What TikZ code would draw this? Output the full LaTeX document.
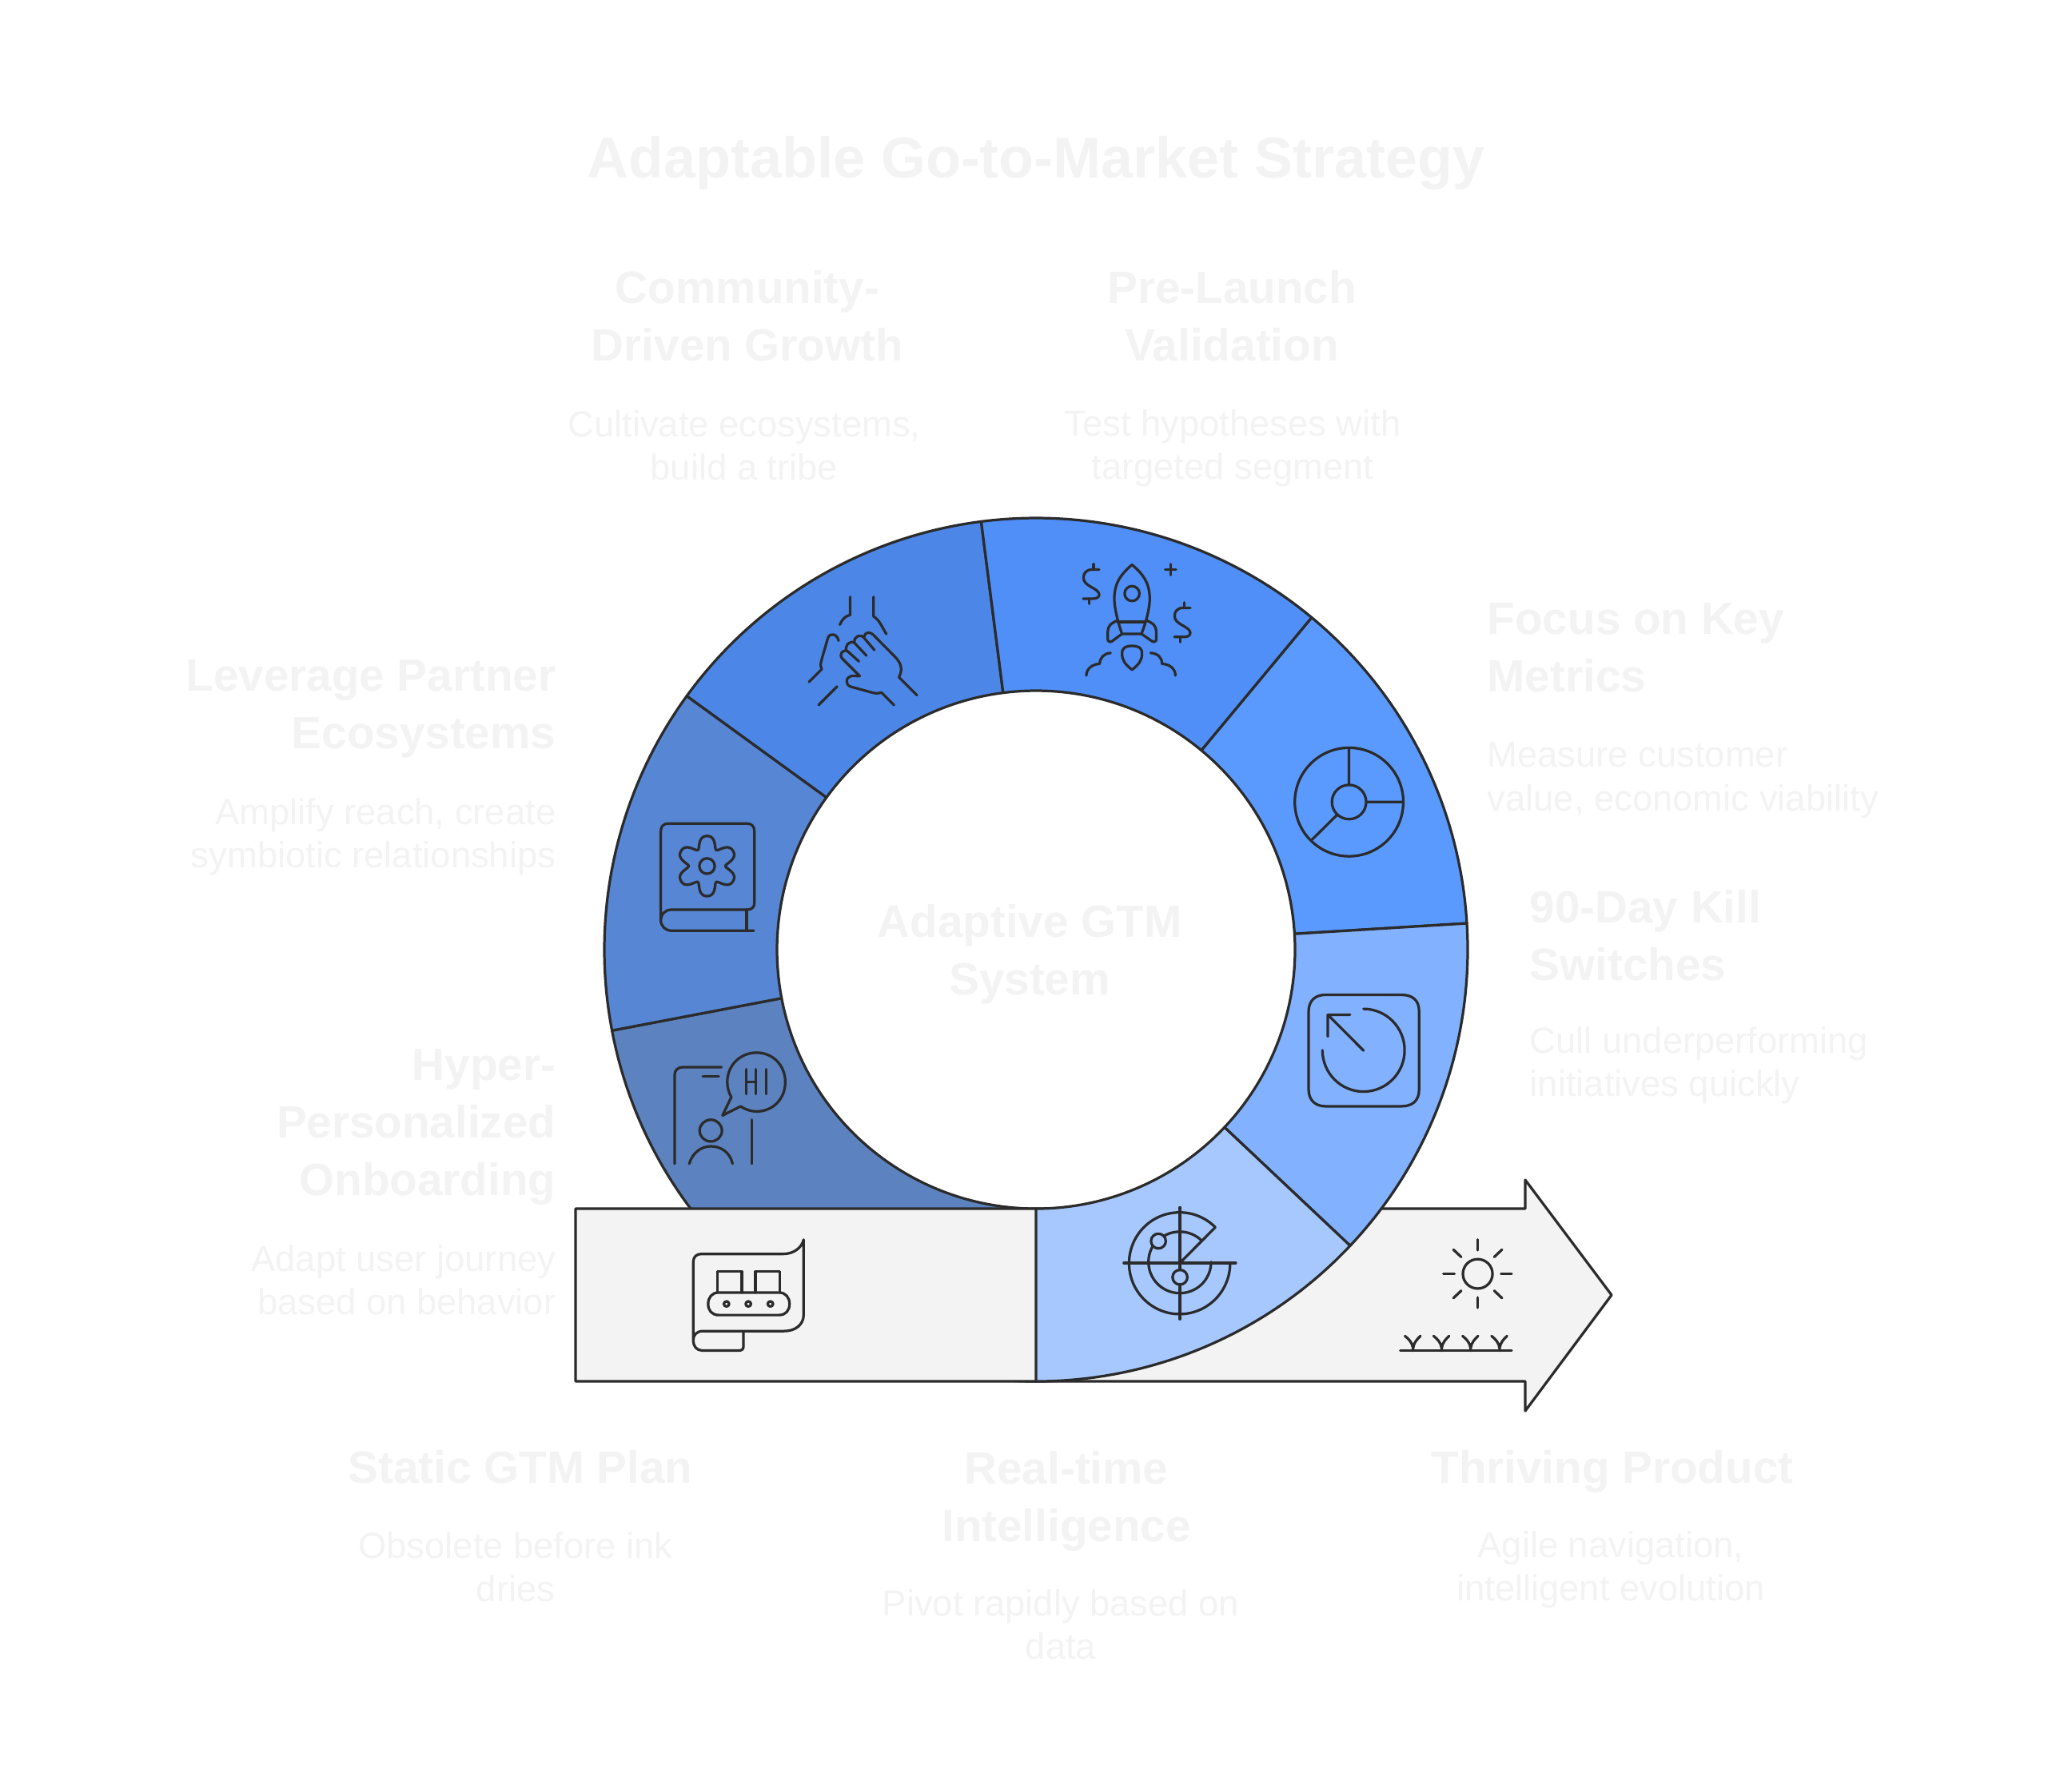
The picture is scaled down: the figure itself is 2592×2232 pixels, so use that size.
\documentclass[tikz,border=0pt]{standalone}
\usepackage{fontspec}
\setmainfont{Liberation Sans}
\definecolor{inkc}{HTML}{2B2B2B}
\definecolor{palet}{HTML}{F3F3F3}
\definecolor{grayf}{HTML}{F3F3F3}
\definecolor{sega}{HTML}{5C83C0}
\definecolor{segb}{HTML}{5786D4}
\definecolor{segc}{HTML}{4C87E8}
\definecolor{segd}{HTML}{4F8FF7}
\definecolor{sege}{HTML}{5A9AFF}
\definecolor{segf}{HTML}{82B1FF}
\definecolor{segg}{HTML}{A6C8FF}
\tikzset{
  seg/.style={draw=inkc,line width=0.92pt,line join=round},
  ico/.style={draw=inkc,line width=0.92pt,line cap=round,line join=round},
  ttl/.style={text=palet,align=center,font=\fontsize{20.45}{26}\bfseries\selectfont},
  hd/.style={text=palet,font=\fontsize{16.1}{20.5}\bfseries\selectfont,inner sep=0pt},
  ds/.style={text=palet,font=\fontsize{12.9}{15.4}\selectfont,inner sep=0pt},
  zoomA/.style={shift={(1250,660)},x=0.0035714cm,y=-0.0035714cm},
  zoomB/.style={shift={(780,700)},x=0.0033333cm,y=-0.0033333cm},
  zoomC/.style={shift={(780,1200)},x=0.0033333cm,y=-0.0035714cm},
  zoomD/.style={shift={(1380,1200)},x=0.0042088cm,y=-0.0038270cm},
}
\newcommand{\ringseg}[3]{\draw[seg,fill=#3] (#1:540) arc[start angle=#1,end angle=#2,radius=540] -- (#2:324) arc[start angle=#2,end angle=#1,radius=324] -- cycle;}
\newcommand{\dollarmark}{%
  \draw[ico] (350,147) -- (325,147) .. controls (305,147) and (295,160) .. (295,175) .. controls (295,190) and (305,198) .. (322,208) .. controls (340,218) and (350,225) .. (350,235) .. controls (350,245) and (340,249) .. (325,249) -- (294,249);
  \draw[ico] (330,128) -- (330,147) (314,249) -- (314,267);}
\newcommand{\sprout}[1]{\draw[ico] (#1,1278) -- (#1,1262) (#1-24,1230) .. controls (#1-12,1240) and (#1-2,1252) .. (#1,1270) .. controls (#1+2,1252) and (#1+12,1240) .. (#1+22,1230);}
\begin{document}
\begin{tikzpicture}[x=0.01cm,y=-0.01cm]
\useasboundingbox (0,0) rectangle (2592,2232);
\fill[white] (0,0) rectangle (2592,2232);

% onboarding sector lies under the arrow
\begin{scope}[shift={(1296,1188)},yscale=-1]
  \ringseg{190.8}{270}{sega}
\end{scope}
% arrow
\draw[seg,fill=grayf] (720,1512) -- (1908,1512) -- (1908,1476) -- (2016,1620) -- (1908,1765) -- (1908,1728) -- (720,1728) -- cycle;
% other sectors
\begin{scope}[shift={(1296,1188)},yscale=-1]
  \ringseg{144}{190.8}{segb}
  \ringseg{97.3}{144}{segc}
  \ringseg{50.3}{97.3}{segd}
  \ringseg{3.5}{50.3}{sege}
  \ringseg{-43.3}{3.5}{segf}
  \ringseg{-90}{-43.3}{segg}
\end{scope}

% rocket
\begin{scope}[zoomA]
  \draw[ico] (465,130) .. controls (430,160) and (403,190) .. (403,250) .. controls (403,280) and (415,330) .. (430,372) -- (498,372) .. controls (515,330) and (527,280) .. (527,250) .. controls (527,190) and (500,160) .. (465,130) -- cycle;
  \draw[ico] (415,330) -- (512,330);
  \draw[ico] (465,231) circle[radius=26];
  \draw[ico] (415,325) .. controls (390,335) and (380,345) .. (380,365) -- (380,390) .. controls (380,400) and (388,402) .. (395,398) -- (430,372);
  \draw[ico] (515,325) .. controls (540,335) and (550,345) .. (550,365) -- (550,390) .. controls (550,400) and (542,402) .. (535,398) -- (498,372);
  \draw[ico] (465,498) .. controls (440,478) and (430,465) .. (430,440) .. controls (430,420) and (445,414) .. (465,414) .. controls (485,414) and (500,420) .. (500,440) .. controls (500,465) and (490,478) .. (465,498) -- cycle;
  \draw[ico] (305,518) .. controls (305,495) and (325,478) .. (352,477) .. controls (352,455) and (368,440) .. (390,439);
  \draw[ico] (617,518) .. controls (617,495) and (597,478) .. (570,477) .. controls (570,455) and (555,440) .. (530,439);
  \draw[ico] (600,128) -- (600,166) (581,147) -- (619,147);
  \dollarmark
  \begin{scope}[shift={(319,134)}]\dollarmark\end{scope}
  % metrics dial
  \draw[ico] (1225,961) circle[radius=190];
  \draw[ico] (1225,961) circle[radius=60];
  \draw[ico] (1225,772) -- (1225,902) (1285,961) -- (1413,961) (1182,1007) -- (1093,1095);
\end{scope}

% hands and book
\begin{scope}[zoomB]
  \draw[ico] (852,140) -- (852,208) .. controls (832,212) and (820,228) .. (813,245);
  \draw[ico] (940,140) -- (940,214) .. controls (960,225) and (970,250) .. (988,280);
  \draw[ico] (808,305) .. controls (805,280) and (775,272) .. (768,295) -- (745,375) .. controls (740,392) and (740,400) .. (745,412) -- (697,460);
  \draw[ico] (803,477) -- (733,547);
  \draw[ico] (888,438) -- (822,372) .. controls (808,355) and (825,335) .. (843,345) -- (885,383);
  \draw[ico] (838,345) .. controls (830,320) and (855,300) .. (870,315) -- (913,361);
  \draw[ico] (868,310) .. controls (865,290) and (890,278) .. (903,293) -- (943,340);
  \draw[ico] (905,290) .. controls (905,275) and (925,268) .. (938,282) -- (1020,365) .. controls (1045,390) and (1050,415) .. (1035,442) -- (1103,510);
  \draw[ico] (888,438) -- (860,437) .. controls (835,440) and (830,470) .. (855,478) -- (935,500) .. controls (950,504) and (960,503) .. (970,500) -- (1017,547);
  \draw[ico] (140,1355) -- (140,1022) .. controls (140,1002) and (150,992) .. (170,992) -- (462,992) .. controls (482,992) and (492,1002) .. (492,1022) -- (492,1290) .. controls (492,1306) and (482,1316) .. (466,1316) -- (180,1316) .. controls (155,1316) and (140,1335) .. (140,1355) .. controls (140,1378) and (158,1395) .. (180,1395) -- (490,1395);
  \draw[ico] (463,1316) -- (463,1395);
  \draw[ico] plot[domain=0:357,samples=120,smooth cycle] ({314+(95+22*cos(6*\x-540)-4*cos(12*\x))*cos(\x)},{1152+(95+22*cos(6*\x-540)-4*cos(12*\x))*sin(\x)});
  \draw[ico] (314,1152) circle[radius=29];
\end{scope}

% onboarding and conveyor
\begin{scope}[zoomC]
  \draw[ico] (192,716) -- (192,405) .. controls (192,388) and (205,378) .. (222,378) -- (368,378);
  \draw[ico] (298,411) -- (358,411);
  \draw[ico] (405,483) .. controls (395,465) and (390,448) .. (390,430) .. controls (390,370) and (440,327) .. (500,327) .. controls (560,327) and (608,370) .. (608,430) .. controls (608,490) and (560,533) .. (500,533) .. controls (480,533) and (460,527) .. (440,515) -- (372,547) -- cycle;
  \draw[ico] (462,385) -- (462,472) (498,385) -- (498,472) (462,430) -- (498,430) (537,385) -- (537,472);
  \draw[ico] (328,600) circle[x radius=42,y radius=38];
  \draw[ico] (247,716) .. controls (260,675) and (295,655) .. (328,655) .. controls (365,655) and (400,675) .. (410,716);
  \draw[ico] (482,562) -- (482,716);
  \draw[ico] (262,1335) -- (262,1060) .. controls (262,1042) and (275,1032) .. (292,1032) -- (600,1032) .. controls (640,1032) and (670,1010) .. (677,982) -- (677,1245) .. controls (677,1280) and (645,1302) .. (605,1302) -- (300,1302) .. controls (275,1302) and (262,1315) .. (262,1335) .. controls (262,1355) and (275,1370) .. (295,1370) -- (435,1370) .. controls (445,1370) and (451,1365) .. (451,1355) -- (451,1302);
  \draw[ico] (354,1167) -- (354,1094) -- (445,1094) -- (445,1167);
  \draw[ico] (496,1167) -- (496,1094) -- (587,1094) -- (587,1167);
  \draw[ico] (358,1167) -- (584,1167) .. controls (610,1167) and (624,1185) .. (624,1207) .. controls (624,1230) and (610,1246) .. (584,1246) -- (358,1246) .. controls (332,1246) and (318,1230) .. (318,1207) .. controls (318,1185) and (332,1167) .. (358,1167) -- cycle;
  \foreach \dx in {387,469,552} \draw[ico] (\dx,1207) circle[x radius=10,y radius=9];
\end{scope}

% timer, radar, sun
\begin{scope}[zoomD]
  \draw[ico] (660,116) -- (885,116) .. controls (920,116) and (938,135) .. (938,170) -- (938,425) .. controls (938,460) and (920,480) .. (885,480) -- (660,480) .. controls (630,480) and (610,460) .. (610,425) -- (610,170) .. controls (610,135) and (630,116) .. (660,116) -- cycle;
  \draw[ico] (773,162) arc[start angle=-90,end angle=180,x radius=122,y radius=135];
  \draw[ico] (773,298) -- (667,181) (667,252) -- (667,181) -- (733,181);
  \draw[ico] (333,875) arc[start angle=-45,end angle=-360,x radius=150,y radius=166];
  \draw[ico] (292,918) arc[start angle=-46,end angle=-119,x radius=93,y radius=102];
  \draw[ico] (147,937) arc[start angle=-150,end angle=-360,x radius=93,y radius=102];
  \draw[ico] (164,920) circle[x radius=22,y radius=24];
  \draw[ico] (228,1038) circle[x radius=22,y radius=24];
  \draw[ico] (228,810) -- (228,1014) (228,1062) -- (228,1175);
  \draw[ico,line width=1.1pt] (62,991) -- (393,991);
  \draw[ico] (228,991) -- (333,875);
  \draw[ico] (1112,1027) circle[x radius=44,y radius=48];
  \draw[ico] (1112,915) -- (1112,950) (1112,1104) -- (1112,1138) (1010,1027) -- (1043,1027) (1181,1027) -- (1213,1027);
  \draw[ico] (1040,948) -- (1063,972) (1184,948) -- (1161,972) (1040,1106) -- (1063,1082) (1184,1106) -- (1161,1082);
  \draw[ico] (882,1278) -- (1213,1278);
  \sprout{920}\sprout{1005}\sprout{1091}\sprout{1177}
\end{scope}

% texts
\node[ttl] (title) at (1296,204) {Adaptable Go-to-Market Strategy};
\node[hd,align=center] (hcomm) at (935,395) {Community-\\Driven Growth};
\node[ds,align=center] (dcomm) at (931,557) {Cultivate ecosystems,\\build a tribe};
\node[hd,align=center] (hpre) at (1541,395) {Pre-Launch\\Validation};
\node[ds,align=center] (dpre) at (1542,561) {Test hypotheses with\\targeted segment};
\node[hd,align=left,anchor=west] (hfocus) at (1860,810) {Focus on Key\\Metrics};
\node[ds,align=left,anchor=west] (dfocus) at (1860,976) {Measure customer\\value, economic viability};
\node[hd,align=left,anchor=west] (hkill) at (1913,1170) {90-Day Kill\\Switches};
\node[ds,align=left,anchor=west] (dkill) at (1913,1333) {Cull underperforming\\initiatives quickly};
\node[hd,align=right,anchor=east] (hlev) at (696,887) {Leverage Partner\\Ecosystems};
\node[ds,align=right,anchor=east] (dlev) at (696,1047) {Amplify reach, create\\symbiotic relationships};
\node[hd,align=right,anchor=east] (hhyp) at (696,1410) {Hyper-\\Personalized\\Onboarding};
\node[ds,align=right,anchor=east] (dhyp) at (696,1601) {Adapt user journey\\based on behavior};
\node[hd,align=center] (hsys) at (1288,1194) {Adaptive GTM\\System};
\node[hd,align=center] (hstat) at (651,1835) {Static GTM Plan};
\node[ds,align=center] (dstat) at (645,1960) {Obsolete before ink\\dries};
\node[hd,align=center] (hreal) at (1334,1878) {Real-time\\Intelligence};
\node[ds,align=center] (dreal) at (1327,2032) {Pivot rapidly based on\\data};
\node[hd,align=center] (hthr) at (2017,1841) {Thriving Product};
\node[ds,align=center] (dthr) at (2015,1964) {Agile navigation,\\intelligent evolution};
\end{tikzpicture}
\end{document}
